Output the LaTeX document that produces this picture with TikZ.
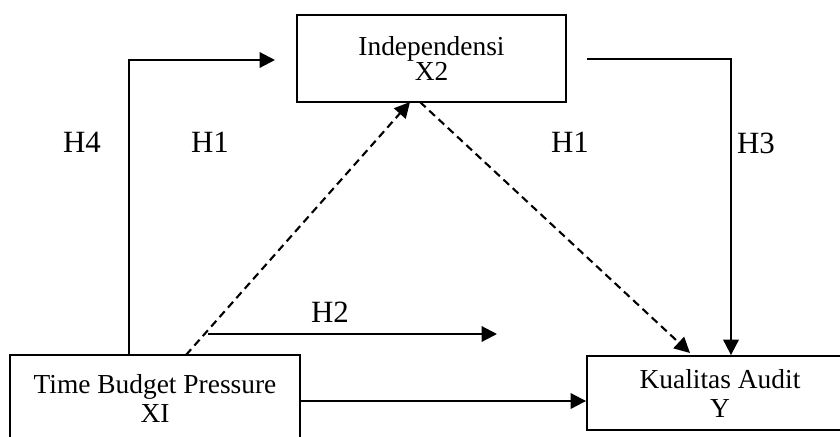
\documentclass[tikz,border=0pt]{standalone}
\usepackage{fontspec}
\setmainfont{Liberation Serif}
\usetikzlibrary{positioning}
\usetikzlibrary{arrows.meta}
\tikzset{
  varbox/.style={draw, line width=1.3pt, align=center, inner sep=0pt, font=\fontsize{19.5}{20.6}\selectfont},
  hlabel/.style={font=\fontsize{22}{24}\selectfont},
  link/.style={line width=1.5pt, -{Triangle[length=11pt,width=11pt]}},
  dlink/.style={link, dash pattern=on 5.5pt off 3.5pt},
}

\begin{document}
\begin{tikzpicture}[x=0.025cm,y=-0.025cm]
            \clip (0,0) rectangle (840,436);
            % Variables
            \node[varbox, minimum width=6.725cm, minimum height=2.175cm, font=\fontsize{19.5}{16.2}\selectfont] (indep) at (431.5,58.5) {Independensi\\X2};
            \node[varbox, minimum width=7.25cm, minimum height=2.15cm] (tbp) at (155,398) {Time Budget Pressure\\XI};
            \node[varbox, minimum width=6.65cm, minimum height=1.85cm] (kual) at (720,393) {Kualitas Audit\\Y};
            % Hypotheses
            \node[hlabel] (h4) at (82,142) {H4};
            \node[hlabel] (h1a) at (210,142) {H1};
            \node[hlabel] (h1b) at (570,142) {H1};
            \node[hlabel] (h3) at (756,143) {H3};
            \node[hlabel] (h2) at (330,312) {H2};
            % Path points
            \coordinate (h4corner) at (129,60);
            \coordinate (h4end) at (275,60);
            \coordinate (h3start) at (587,59);
            \coordinate (h3corner) at (731,59);
            \coordinate (h2start) at (208,334);
            \coordinate (h2end) at (497,334);
            \coordinate (d1start) at (186,355);
            \coordinate (d1end) at (410,102);
            \coordinate (d2start) at (420,102);
            \coordinate (d2end) at (690,353);
            % Arrows
            \draw[link] (tbp.north -| h4corner) -- (h4corner) -- (h4end);
            \draw[link] (h3start) -- (h3corner) -- (kual.north -| h3corner);
            \draw[link] (h2start) -- (h2end);
            \draw[link] (tbp.east |- 0,401) -- (kual.west |- 0,401);
            \draw[dlink] (d1start) -- (d1end);
            \draw[dlink] (d2start) -- (d2end);
\end{tikzpicture}
\end{document}
